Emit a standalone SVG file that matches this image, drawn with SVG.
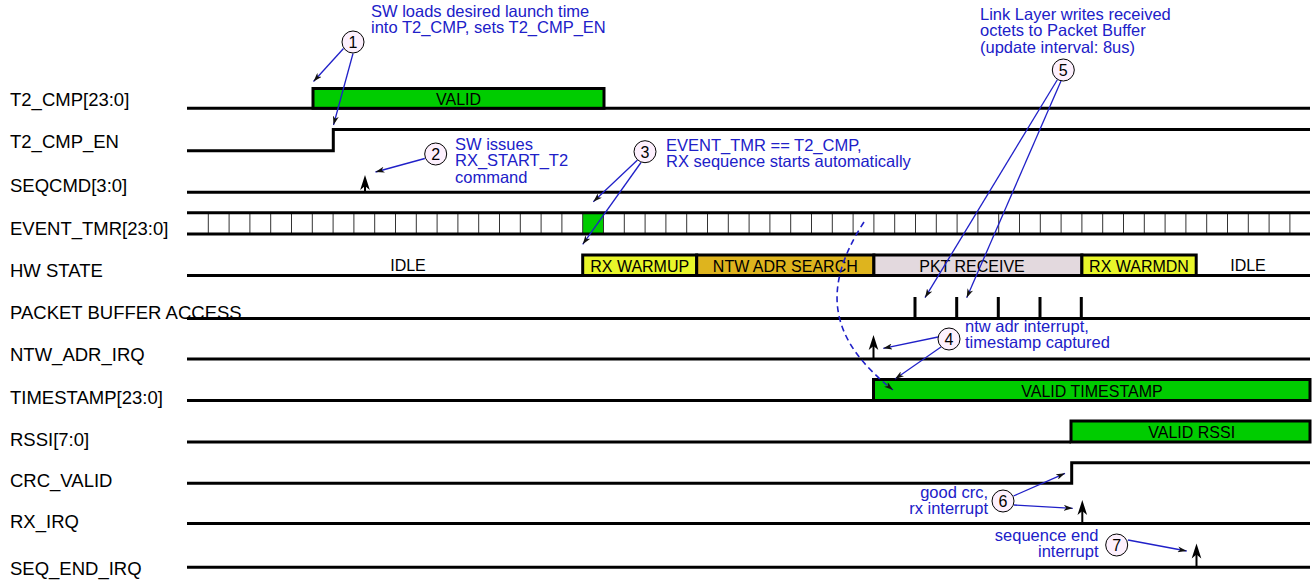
<svg xmlns="http://www.w3.org/2000/svg" xmlns:xlink="http://www.w3.org/1999/xlink" width="1314" height="581" viewBox="0 0 1314 581">
<style>
.lbl{font-family:"Liberation Sans",Arial,sans-serif;font-size:18.5px;fill:#000}
.ann{font-family:"Liberation Sans",Arial,sans-serif;font-size:16.5px;fill:#2020c8}
.box{font-family:"Liberation Sans",Arial,sans-serif;font-size:16px;fill:#000;text-anchor:middle}
.num{font-family:"Liberation Sans",Arial,sans-serif;font-size:16px;fill:#000;text-anchor:middle}
.sig{fill:none;stroke:#000;stroke-width:3}
.tick{fill:none;stroke:#333;stroke-width:1}
.grn{fill:#00cc00;stroke:#000;stroke-width:3}
.st{stroke:#000;stroke-width:3}
.circ{fill:#fdf0fd;stroke:#000;stroke-width:1}
.ptr{fill:none;stroke:#2020c8;stroke-width:1.3;marker-end:url(#ah)}
.irq{fill:none;stroke:#000;stroke-width:2}
</style>
<defs>
<marker id="ah" markerUnits="userSpaceOnUse" viewBox="0 0 9 6" refX="9" refY="3" markerWidth="9" markerHeight="6" orient="auto">
<path d="M0,0 L9,3 L0,6 L2.5,3 z" fill="#111"/>
</marker>
<path id="uph" d="M0,0 L-4.8,15 L0,11 L4.8,15 z" fill="#000"/>
</defs>
<rect width="1314" height="581" fill="#fff"/>

<g id="labels">
<text class="lbl" x="10" y="106">T2_CMP[23:0]</text>
<text class="lbl" x="10" y="148">T2_CMP_EN</text>
<text class="lbl" x="10" y="191.5">SEQCMD[3:0]</text>
<text class="lbl" x="10" y="235">EVENT_TMR[23:0]</text>
<text class="lbl" x="10" y="277">HW STATE</text>
<text class="lbl" x="10" y="319">PACKET BUFFER ACCESS</text>
<text class="lbl" x="10" y="360.5">NTW_ADR_IRQ</text>
<text class="lbl" x="10" y="404">TIMESTAMP[23:0]</text>
<text class="lbl" x="10" y="445.5">RSSI[7:0]</text>
<text class="lbl" x="10" y="487">CRC_VALID</text>
<text class="lbl" x="10" y="528">RX_IRQ</text>
<text class="lbl" x="10" y="575">SEQ_END_IRQ</text>
</g>

<g id="sig-t2cmp">
<path class="sig" d="M187,108.3 H1310"/>
<rect class="grn" x="313" y="88.5" width="291" height="19.8"/>
<text class="box" x="458.5" y="104.5">VALID</text>
</g>

<g id="sig-t2cmpen">
<path class="sig" d="M187,150.7 H333.3 V129.5 H1310"/>
</g>

<g id="sig-seqcmd">
<path class="sig" d="M187,192.3 H1310"/>
<path class="irq" d="M365,192.3 V184"/>
<use xlink:href="#uph" href="#uph" x="365" y="175"/>
</g>

<g id="sig-eventtmr">
<rect x="582.7" y="212.7" width="20.8" height="21.3" fill="#00cc00"/>
<path class="tick" d="M208.3,212.7V234M229.1,212.7V234M249.9,212.7V234M270.7,212.7V234M291.5,212.7V234M312.3,212.7V234M333.1,212.7V234M353.9,212.7V234M374.7,212.7V234M395.5,212.7V234M416.3,212.7V234M437.1,212.7V234M457.9,212.7V234M478.7,212.7V234M499.5,212.7V234M520.3,212.7V234M541.1,212.7V234M561.9,212.7V234M582.7,212.7V234M603.5,212.7V234M624.3,212.7V234M645.1,212.7V234M665.9,212.7V234M686.7,212.7V234M707.5,212.7V234M728.3,212.7V234M749.1,212.7V234M769.9,212.7V234M790.7,212.7V234M811.5,212.7V234M832.3,212.7V234M853.1,212.7V234M873.9,212.7V234M894.7,212.7V234M915.5,212.7V234M936.3,212.7V234M957.1,212.7V234M977.9,212.7V234M998.7,212.7V234M1019.5,212.7V234M1040.3,212.7V234M1061.1,212.7V234M1081.9,212.7V234M1102.7,212.7V234M1123.5,212.7V234M1144.3,212.7V234M1165.1,212.7V234M1185.9,212.7V234M1206.7,212.7V234M1227.5,212.7V234M1248.3,212.7V234M1269.1,212.7V234M1289.9,212.7V234"/>
<path class="sig" d="M187,212.7 H1310 M187,234 H1310"/>
</g>

<g id="sig-hwstate">
<path class="sig" d="M187,275.5 H1310"/>
<rect class="st" x="582.7" y="255" width="114" height="20.5" fill="#e8f52a"/>
<rect class="st" x="696.7" y="255" width="177.2" height="20.5" fill="#deb41e"/>
<rect class="st" x="873.9" y="255" width="208" height="20.5" fill="#e3d9de"/>
<rect class="st" x="1081.9" y="255" width="114.3" height="20.5" fill="#e8f52a"/>
<text class="box" x="408" y="270.5">IDLE</text>
<text class="box" x="639.7" y="271.5">RX WARMUP</text>
<text class="box" x="785.3" y="271.5">NTW ADR SEARCH</text>
<text class="box" x="972" y="271.5">PKT RECEIVE</text>
<text class="box" x="1139" y="271.5">RX WARMDN</text>
<text class="box" x="1248" y="270.5">IDLE</text>
</g>

<g id="sig-pktbuf">
<path class="sig" d="M187,318.5 H1310 M915,318.5 V297 M956.7,318.5 V297 M998.3,318.5 V297 M1040,318.5 V297 M1081.3,318.5 V297"/>
</g>

<g id="sig-ntwirq">
<path class="sig" d="M187,359 H1310"/>
<path class="irq" d="M873.5,359 V344"/>
<use xlink:href="#uph" href="#uph" x="873.5" y="335"/>
</g>

<g id="sig-timestamp">
<path class="sig" d="M187,400.5 H873.5"/>
<rect class="grn" x="873.5" y="379.5" width="436.5" height="21"/>
<text class="box" x="1092" y="396.5">VALID TIMESTAMP</text>
</g>

<g id="sig-rssi">
<path class="sig" d="M187,442 H1071"/>
<rect class="grn" x="1071" y="421" width="239" height="21"/>
<text class="box" x="1191.7" y="437.5">VALID RSSI</text>
</g>

<g id="sig-crc">
<path class="sig" d="M187,483.3 H1071.7 V462.7 H1310"/>
</g>

<g id="sig-rxirq">
<path class="sig" d="M187,523.5 H1310"/>
<path class="irq" d="M1082.3,523.5 V509"/>
<use xlink:href="#uph" href="#uph" x="1082.3" y="500"/>
</g>

<g id="sig-seqend">
<path class="sig" d="M187,567.3 H1310"/>
<path class="irq" d="M1196.5,567.3 V552.5"/>
<use xlink:href="#uph" href="#uph" x="1196.5" y="543.5"/>
</g>

<g id="connectors">
<path class="ptr" d="M343.5,48.5 L313.5,81.5"/>
<path class="ptr" d="M353,53.5 L333.5,125"/>
<path class="ptr" d="M424.8,158.5 L375.5,172"/>
<path class="ptr" d="M637.5,160 L593.3,201.7"/>
<path class="ptr" d="M641,162.5 L582.7,244.3"/>
<path class="ptr" d="M1057.5,79.5 L925,297.7"/>
<path class="ptr" d="M1061,81 L966.7,297.7"/>
<path class="ptr" d="M938,337 L883.3,348.3"/>
<path class="ptr" d="M941,347 L895,379"/>
<path class="ptr" d="M1013.5,496 L1065,473.3"/>
<path class="ptr" d="M1014,505 L1072.7,508.3"/>
<path class="ptr" d="M1128,540 L1186.7,551"/>
<path d="M864,222 C820,290 830,340 893,390" fill="none" stroke="#2020c8" stroke-width="1.6" stroke-dasharray="6,4" marker-end="url(#ah)"/>
</g>

<g id="note1">
<circle class="circ" cx="353" cy="42" r="11"/>
<text class="num" x="353" y="47.8">1</text>
<text class="ann" x="371" y="17"><tspan x="371">SW loads desired launch time</tspan><tspan x="371" dy="16.3">into T2_CMP, sets T2_CMP_EN</tspan></text>
</g>

<g id="note2">
<circle class="circ" cx="435.7" cy="154" r="11"/>
<text class="num" x="435.7" y="159.8">2</text>
<text class="ann" x="455" y="150"><tspan x="455">SW issues</tspan><tspan x="455" dy="16.3">RX_START_T2</tspan><tspan x="455" dy="16.3">command</tspan></text>
</g>

<g id="note3">
<circle class="circ" cx="645" cy="151.7" r="11"/>
<text class="num" x="645" y="157.5">3</text>
<text class="ann" x="666" y="150.5"><tspan x="666">EVENT_TMR == T2_CMP,</tspan><tspan x="666" dy="16.3">RX sequence starts automatically</tspan></text>
</g>

<g id="note4">
<circle class="circ" cx="949" cy="339" r="11"/>
<text class="num" x="949" y="344.8">4</text>
<text class="ann" x="965" y="332"><tspan x="965">ntw adr interrupt,</tspan><tspan x="965" dy="16.3">timestamp captured</tspan></text>
</g>

<g id="note5">
<circle class="circ" cx="1063.3" cy="70" r="11"/>
<text class="num" x="1063.3" y="75.8">5</text>
<text class="ann" x="980" y="20"><tspan x="980">Link Layer writes received</tspan><tspan x="980" dy="16.3">octets to Packet Buffer</tspan><tspan x="980" dy="16.3">(update interval: 8us)</tspan></text>
</g>

<g id="note6">
<circle class="circ" cx="1003" cy="501" r="11"/>
<text class="num" x="1003" y="506.8">6</text>
<text class="ann" text-anchor="end" x="988" y="498"><tspan x="988">good crc,</tspan><tspan x="988" dy="16.3">rx interrupt</tspan></text>
</g>

<g id="note7">
<circle class="circ" cx="1116.7" cy="545" r="11"/>
<text class="num" x="1116.7" y="550.8">7</text>
<text class="ann" text-anchor="end" x="1098.5" y="540.5"><tspan x="1098.5">sequence end</tspan><tspan x="1098.5" dy="16.3">interrupt</tspan></text>
</g>
</svg>
